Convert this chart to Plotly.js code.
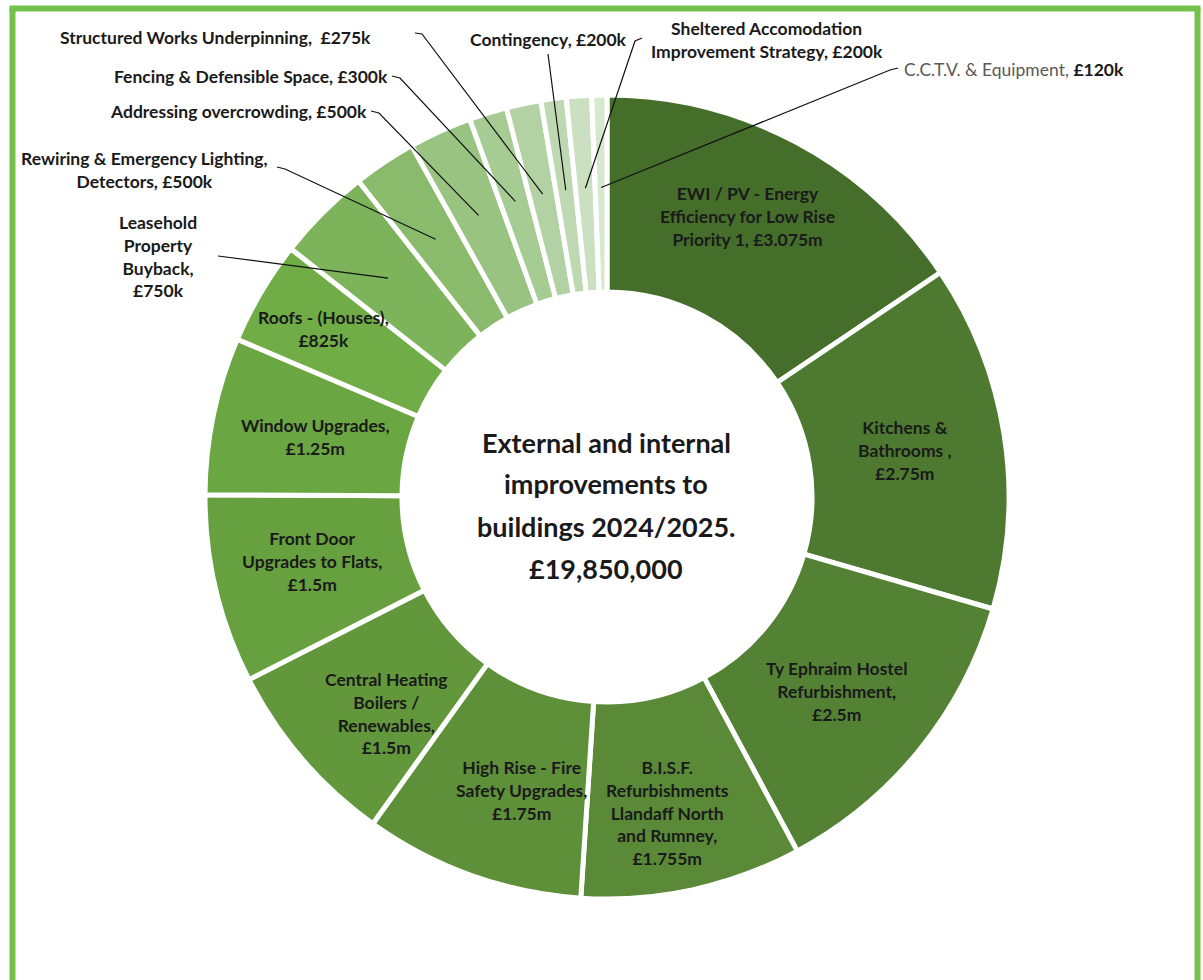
<!DOCTYPE html>
<html>
<head>
<meta charset="utf-8">
<script src="https://cdn.plot.ly/plotly-3.0.1.min.js"></script>
<style>
html,body{margin:0;padding:0;background:#ffffff;}
#chart{width:1203px;height:980px;}
</style>
</head>
<body>
<div id="chart"></div>
<script>
// ---------- DATA ----------
const categories = [
  "EWI / PV - Energy Efficiency for Low Rise Priority 1",
  "Kitchens & Bathrooms",
  "Ty Ephraim Hostel Refurbishment",
  "B.I.S.F. Refurbishments Llandaff North and Rumney",
  "High Rise - Fire Safety Upgrades",
  "Central Heating Boilers / Renewables",
  "Front Door Upgrades to Flats",
  "Window Upgrades",
  "Roofs - (Houses)",
  "Leasehold Property Buyback",
  "Rewiring & Emergency Lighting, Detectors",
  "Addressing overcrowding",
  "Fencing & Defensible Space",
  "Structured Works Underpinning",
  "Contingency",
  "Sheltered Accomodation Improvement Strategy",
  "C.C.T.V. & Equipment"
];
const valuesK = [3075, 2750, 2500, 1755, 1750, 1500, 1500, 1250, 825, 750, 500, 500, 300, 275, 200, 200, 120];
const valueLabels = ["£3.075m","£2.75m","£2.5m","£1.755m","£1.75m","£1.5m","£1.5m","£1.25m","£825k","£750k","£500k","£500k","£300k","£275k","£200k","£200k","£120k"];
const displayLabels = [
  "EWI / PV - Energy<br>Efficiency for Low Rise<br>Priority 1, £3.075m",
  "Kitchens &<br>Bathrooms ,<br>£2.75m",
  "Ty Ephraim Hostel<br>Refurbishment,<br>£2.5m",
  "B.I.S.F.<br>Refurbishments<br>Llandaff North<br>and Rumney,<br>£1.755m",
  "High Rise - Fire<br>Safety Upgrades,<br>£1.75m",
  "Central Heating<br>Boilers /<br>Renewables,<br>£1.5m",
  "Front Door<br>Upgrades to Flats,<br>£1.5m",
  "Window Upgrades,<br>£1.25m",
  "Roofs - (Houses),<br>£825k",
  "Leasehold<br>Property<br>Buyback,<br>£750k",
  "Rewiring & Emergency Lighting,<br>Detectors, £500k",
  "Addressing overcrowding, £500k",
  "Fencing & Defensible Space, £300k",
  "Structured Works Underpinning,  £275k",
  "Contingency, £200k",
  "Sheltered Accomodation<br>Improvement Strategy, £200k",
  "<span style='color:#595959;font-weight:normal'>C.C.T.V. &amp; Equipment, </span>£120k"
];
const titleLines = ["External and internal","improvements to","buildings 2024/2025.","£19,850,000"];

// ---------- STYLE / LAYOUT ----------
const sliceColors = ["#456e2b","#4d7a30","#548235","#5a8a38","#5e903a","#62973c","#66a03f","#6aa642","#70ad47",
                     "#7db45b","#8abb6d","#98c381","#a6cb93","#b2d2a3","#bed9b2","#cae0c0","#d6e8ce"];
const W = 1203, H = 980;
const CX = 607, CY = 497, R = 402;
const HOLE = 0.51;
const LABEL_FONT = {family: "Lato, 'Open Sans', sans-serif", size: 17.5, color: "#1a1a1a", weight: "bold"};

// per-label placement (layout only): rf = radial fraction, da = angular nudge (deg)
const placement = [
  {rf: 0.78, da: -1.4}, {rf: 0.75}, {rf: 0.75, da: 1.2}, {rf: 0.80, da: 1.5}, {rf: 0.76, da: -3.5},
  {rf: 0.77, da: -3.8}, {rf: 0.75, da: 1.0}, {rf: 0.74}, {rf: 0.82},
  {tx: 158, ty: 257, line: [[218,256]]},
  {tx: 144, ty: 170, line: [[277,167],[285,169]]},
  {tx: 239, ty: 111, line: [[371,111],[379,113]]},
  {tx: 251, ty: 76,  line: [[392,76],[400,78]]},
  {tx: 215, ty: 37,  line: [[415,33],[422,34]]},
  {tx: 548, ty: 39,  line: [[548,54]]},
  {tx: 767, ty: 40,  line: [[642,38],[635,41]]},
  {tx: 902, ty: 70,  anchor: "left", line: [[898,68],[890,70]]}
];
const LEADER_RF = 0.77;

const total = valuesK.reduce((a, b) => a + b, 0);
const px = x => x / W;
const py = y => 1 - y / H;
function slicePoint(i, rf, daDeg) {
  let before = 0;
  for (let k = 0; k < i; k++) before += valuesK[k];
  const a = (before + valuesK[i] / 2) / total * 2 * Math.PI + (daDeg || 0) * Math.PI / 180;
  return [CX + rf * R * Math.sin(a), CY - rf * R * Math.cos(a)];
}

const pieTrace = {
  type: "pie",
  labels: categories,
  values: valuesK,
  sort: false,
  direction: "clockwise",
  rotation: 0,
  hole: HOLE,
  textinfo: "none",
  hoverinfo: "label+value",
  marker: {colors: sliceColors, line: {color: "#ffffff", width: 5}},
  domain: {x: [px(CX - R), px(CX + R)], y: [py(CY + R), py(CY - R)]},
  showlegend: false
};

const annotations = [];
const shapes = [];
placement.forEach((p, i) => {
  if (p.rf !== undefined) {
    const [x, y] = slicePoint(i, p.rf, p.da);
    annotations.push({xref: "paper", yref: "paper", x: px(x), y: py(y), text: displayLabels[i],
      showarrow: false, xanchor: "center", yanchor: "middle", align: "center", font: LABEL_FONT});
  } else {
    annotations.push({xref: "paper", yref: "paper", x: px(p.tx), y: py(p.ty), text: displayLabels[i],
      showarrow: false, xanchor: p.anchor || "center", yanchor: "middle", align: p.anchor || "center", font: LABEL_FONT});
    const end = slicePoint(i, LEADER_RF, 0);
    const pts = p.line.concat([end]);
    const path = pts.map((q, k) => (k ? "L" : "M") + px(q[0]).toFixed(5) + "," + py(q[1]).toFixed(5)).join(" ");
    shapes.push({type: "path", xref: "paper", yref: "paper", path: path, line: {color: "#111111", width: 1.2}, layer: "above"});
  }
});

const TITLE_Y0 = 442, TITLE_STEP = 42;
titleLines.forEach((t, k) => {
  annotations.push({xref: "paper", yref: "paper", x: px(CX - 1), y: py(TITLE_Y0 + k * TITLE_STEP), text: t,
    showarrow: false, xanchor: "center", yanchor: "middle",
    font: {family: "Lato, 'Open Sans', sans-serif", size: 27, color: "#1a1a1a", weight: "bold"}});
});

// frame
const FRAME = {color: "#74c14c", width: 6};
shapes.push({type: "line", xref: "paper", yref: "paper", x0: px(12.5), x1: px(12.5), y0: py(8.5), y1: py(1000), line: FRAME});
shapes.push({type: "line", xref: "paper", yref: "paper", x0: px(9.5), x1: px(1200.5), y0: py(8.5), y1: py(8.5), line: FRAME});
shapes.push({type: "line", xref: "paper", yref: "paper", x0: px(1197.5), x1: px(1197.5), y0: py(8.5), y1: py(1000), line: FRAME});

const layout = {
  width: W, height: H,
  margin: {l: 0, r: 0, t: 0, b: 0},
  paper_bgcolor: "#ffffff",
  plot_bgcolor: "#ffffff",
  showlegend: false,
  annotations: annotations,
  shapes: shapes,
  font: {family: "Lato, 'Open Sans', sans-serif"}
};

Plotly.newPlot("chart", [pieTrace], layout, {staticPlot: true, displayModeBar: false});
</script>
</body>
</html>
